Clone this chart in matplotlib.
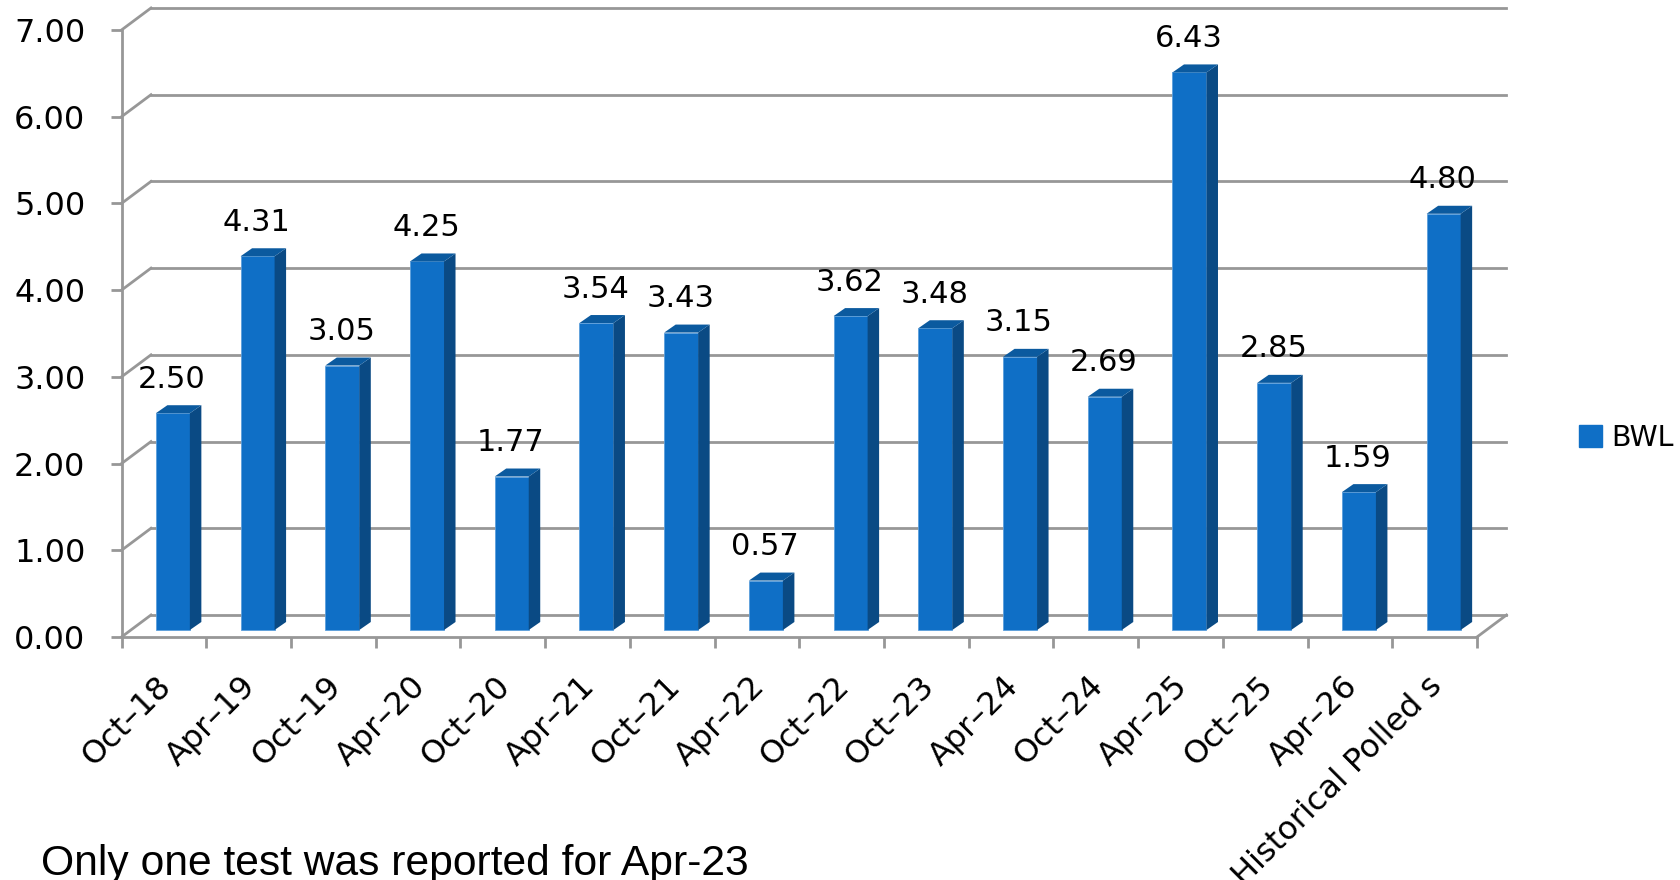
import matplotlib
matplotlib.use("Agg")
import matplotlib.pyplot as plt
from matplotlib.patches import Patch, Polygon
from matplotlib.transforms import ScaledTranslation
import numpy as np

categories = ["Oct–18", "Apr–19", "Oct–19", "Apr–20", "Oct–20", "Apr–21", "Oct–21", "Apr–22",
              "Oct–22", "Oct–23", "Apr–24", "Oct–24", "Apr–25", "Oct–25", "Apr–26", "Historical Polled s"]
bwl = [2.50, 4.31, 3.05, 4.25, 1.77, 3.54, 3.43, 0.57,
       3.62, 3.48, 3.15, 2.69, 6.43, 2.85, 1.59, 4.80]
y_ticks = [0, 1, 2, 3, 4, 5, 6, 7]

GRAY = "#979797"
FRONT = "#0F6FC6"
SIDE = "#0A4A84"
TOP = "#0B5A9F"

W, H = 1680, 880
fig = plt.figure(figsize=(W / 100, H / 100), dpi=100)
ax = fig.add_axes([121.5 / W, 1 - 637 / H, (1477 - 121.5) / W, (637 - 30) / H])
ax.set_xlim(0, 16)
ax.set_ylim(0, 7)

# fake 3d depth, in data units
px_x = 16 / (1477 - 121.5)
px_y = 7 / (637 - 30)
wall_dx, wall_dy = 29.5 * px_x, 22 * px_y
bar_dx, bar_dy = 11.5 * px_x, 8 * px_y
bar_w = 34 * px_x
bar_base = 7 * px_y
bar_shift = 9 * px_x

# back wall grid and left wall / floor diagonals
for v in y_ticks:
    ax.plot([wall_dx, 16 + wall_dx], [v + wall_dy, v + wall_dy], color=GRAY, lw=2, clip_on=False, zorder=1)
    ax.plot([0, wall_dx], [v, v + wall_dy], color=GRAY, lw=2, clip_on=False, zorder=1)
ax.plot([16, 16 + wall_dx], [0, wall_dy], color=GRAY, lw=2, clip_on=False, zorder=1)

x = np.arange(len(bwl)) + 0.5 + bar_shift
ax.bar(x, bwl, width=bar_w, bottom=bar_base, color=FRONT, edgecolor="#5C9FDC", linewidth=0.6, zorder=3)
for xi, v in zip(x, bwl):
    left, right = xi - bar_w / 2, xi + bar_w / 2
    top = v + bar_base
    ax.add_patch(Polygon([(right, bar_base), (right + bar_dx, bar_base + bar_dy),
                          (right + bar_dx, top + bar_dy), (right, top)], color=SIDE, lw=0, zorder=3))
    ax.add_patch(Polygon([(left, top), (right, top), (right + bar_dx, top + bar_dy),
                          (left + bar_dx, top + bar_dy)], color=TOP, lw=0, zorder=3))
    ax.text(xi - 1 * px_x, top + 34 * px_y, f"{v:.2f}", ha="center", va="center", fontsize=22, color="black", zorder=4)

for s in ["top", "right"]:
    ax.spines[s].set_visible(False)
for s in ["left", "bottom"]:
    ax.spines[s].set_color(GRAY)
    ax.spines[s].set_linewidth(2)

ax.set_yticks(y_ticks)
ax.set_yticklabels([f"{v:.2f}" for v in y_ticks], fontsize=23)
ax.tick_params(axis="y", length=8, width=2, color=GRAY, pad=18)
ax.set_xticks(np.arange(0, 17))
ax.set_xticklabels([])
ax.tick_params(axis="x", which="major", length=8, width=2, color=GRAY)
ax.set_xticks(np.arange(len(categories)) + 0.5, minor=True)
ax.set_xticklabels(categories, minor=True, rotation=45, ha="right", va="top",
                   rotation_mode="anchor", fontsize=23)
ax.tick_params(axis="x", which="minor", length=0, pad=24)
for lab in ax.get_xticklabels(minor=True):
    lab.set_transform(lab.get_transform() + ScaledTranslation(-8 / 100, 0, fig.dpi_scale_trans))

ax.legend(handles=[Patch(color=FRONT, label="BWL")], loc="center left",
          bbox_to_anchor=((1579 - 121.5) / (1477 - 121.5), (637 - 438) / (637 - 30)),
          frameon=False, fontsize=20.5, handlelength=0.8, handleheight=0.8, handletextpad=0.35,
          borderpad=0, borderaxespad=0)

fig.text(41 / W, 1 - 875 / H, "Only one test was reported for Apr-23", fontsize=30.7,
         family="Liberation Sans", color="black", ha="left", va="baseline")

fig.savefig("out.png", dpi=100)
